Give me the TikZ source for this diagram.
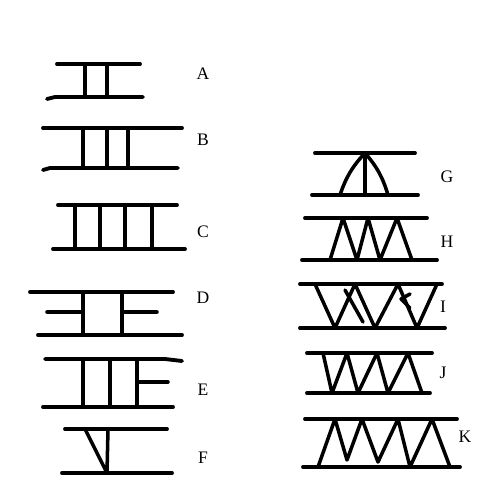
\documentclass[tikz,border=0pt]{standalone}
\usepackage{fontspec}
\setmainfont{Liberation Serif}
\tikzset{
  rail/.style={line width=2.2pt, line cap=round},
  web/.style={line width=2pt, line cap=round, line join=round},
  tag/.style={font=\fontsize{10}{11}\selectfont, inner sep=0pt}
}
\begin{document}
\begin{tikzpicture}[x=0.02cm, y=-0.02cm]
            \useasboundingbox (0, 0) rectangle (500, 501);
            % A
            \draw [rail] (57, 64) -- (140, 64);
            \draw [rail] (47, 99) -- (55, 97) -- (143, 97);
            \draw [web] (85, 64) -- (85, 97) (107, 64) -- (107, 97);
            \node[tag] (labA) at (203, 74) {A};
            % B
            \draw [rail] (43, 128) -- (182, 128);
            \draw [rail] (43, 170) -- (50, 168) -- (178, 168);
            \draw [web] (83, 128) -- (83, 168) (107, 128) -- (107, 168) (128, 128) -- (128, 168);
            \node[tag] (labB) at (203, 140) {B};
            % C
            \draw [rail] (58, 205) -- (177, 205);
            \draw [rail] (53, 249) -- (185, 249);
            \foreach \xc in {75, 100, 125, 152}
                \draw [web] (\xc, 205) -- (\xc, 249);
            \node[tag] (labC) at (203, 232) {C};
            % D
            \draw [rail] (30, 292) -- (173, 292);
            \draw [rail] (38, 335) -- (182, 335);
            \draw [web] (83, 292) -- (83, 335) (122, 292) -- (122, 335);
            \draw [web] (47, 312) -- (83, 312) (122, 312) -- (157, 312);
            \node[tag] (labD) at (203, 298) {D};
            % E
            \draw [rail] (45, 359) -- (165, 359) -- (182, 361);
            \draw [rail] (43, 407) -- (173, 407);
            \draw [web] (83, 359) -- (83, 407) (110, 359) -- (110, 407) (137, 359) -- (137, 407);
            \draw [web] (137, 382) -- (168, 382);
            \node[tag] (labE) at (203, 390) {E};
            % F
            \draw [rail] (65, 429) -- (167, 429);
            \draw [rail] (62, 473) -- (172, 473);
            \draw [web] (85, 429) -- (107, 473) -- (108, 429);
            \node[tag] (labF) at (203, 458) {F};
            % G
            \draw [rail] (315, 153) -- (415, 153);
            \draw [rail] (312, 195) -- (418, 195);
            \draw [web] (365, 153) -- (365, 195);
            \draw [web] (365, 153) to[bend right=12] (340, 195);
            \draw [web] (365, 153) to[bend left=12] (388, 195);
            \node[tag] (labG) at (447, 177) {G};
            % H
            \draw [rail] (305, 218) -- (427, 218);
            \draw [rail] (302, 260) -- (437, 260);
            \draw [web] (330, 260) -- (343, 218) -- (357, 260) -- (368, 218)
                -- (380, 260) -- (397, 218) -- (412, 260);
            \node[tag] (labH) at (447, 242) {H};
            % I
            \draw [rail] (300, 284) -- (442, 284);
            \draw [rail] (300, 328) -- (445, 328);
            \draw [web] (315, 284) -- (335, 328) -- (355, 284) -- (375, 328)
                -- (398, 284) -- (417, 328) -- (437, 284);
            \draw [web] (345, 290) -- (363, 322);
            \draw [web] (410, 294) -- (401, 299) -- (410, 308);
            \node[tag] (labI) at (443, 307) {I};
            % J
            \draw [rail] (307, 353) -- (432, 353);
            \draw [rail] (307, 393) -- (430, 393);
            \draw [web] (323, 353) -- (332, 393) -- (347, 353) -- (358, 393)
                -- (377, 353) -- (388, 393) -- (408, 353) -- (422, 393);
            \node[tag] (labJ) at (443, 373) {J};
            % K
            \draw [rail] (305, 419) -- (457, 419);
            \draw [rail] (303, 467) -- (460, 467);
            \draw [web] (318, 467) -- (335, 419) -- (347, 460) -- (362, 419)
                -- (378, 462) -- (398, 419) -- (410, 467) -- (432, 419) -- (450, 467);
            \node[tag] (labK) at (465, 437) {K};
        \end{tikzpicture}
\end{document}
